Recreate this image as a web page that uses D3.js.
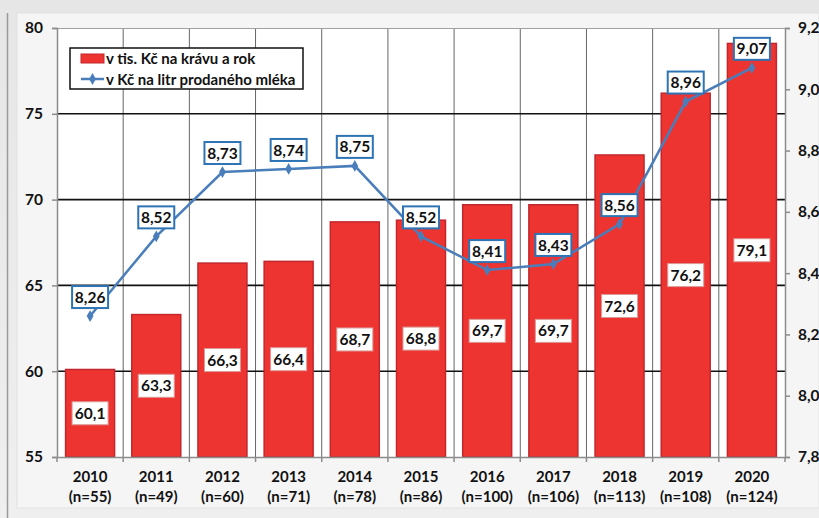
<!DOCTYPE html>
<html>
<head>
<meta charset="utf-8">
<script src="https://cdn.jsdelivr.net/npm/d3@7/dist/d3.min.js"></script>
<style>
  body { margin: 0; background: #ececec; }
  svg text { font-family: Lato, "Open Sans", sans-serif; font-weight: bold; fill: #111; }
</style>
</head>
<body>
<div id="chart"></div>
<script>
// Data
const years = ["2010", "2011", "2012", "2013", "2014", "2015", "2016", "2017", "2018", "2019", "2020"];
const sampleSizes = [55, 49, 60, 71, 78, 86, 100, 106, 113, 108, 124];
const perCow = [60.1, 63.3, 66.3, 66.4, 68.7, 68.8, 69.7, 69.7, 72.6, 76.2, 79.1];
const perLitre = [8.26, 8.52, 8.73, 8.74, 8.75, 8.52, 8.41, 8.43, 8.56, 8.96, 9.07];
const leftTicks = [55, 60, 65, 70, 75, 80];
const rightTicks = [7.8, 8.0, 8.2, 8.4, 8.6, 8.8, 9.0, 9.2];
const legendLabels = ["v tis. Kč na krávu a rok", "v Kč na litr prodaného mléka"];

const width = 819, height = 518;
const margin = { top: 28, right: 34, bottom: 61, left: 57 };
const innerW = width - margin.left - margin.right;
const innerH = height - margin.top - margin.bottom;

const red = "#ee3431", redDark = "#c1272d", blue = "#4a7ebb", boxBlue = "#2e74b5";
const fmt = (v, d) => v.toFixed(d).replace(".", ",");

const svg = d3.select("#chart").append("svg")
    .attr("width", width)
    .attr("height", height);

// background frame
const defs = svg.append("defs");
const bgGrad = defs.append("linearGradient").attr("id", "bg").attr("x1", 0).attr("y1", 0).attr("x2", 0).attr("y2", 1);
bgGrad.append("stop").attr("offset", "0%").attr("stop-color", "#e6e6e6");
bgGrad.append("stop").attr("offset", "100%").attr("stop-color", "#efefef");
svg.append("rect").attr("width", width).attr("height", height).attr("fill", "url(#bg)");
svg.append("rect").attr("x", 17).attr("y", 13).attr("width", width - 17).attr("height", 495)
    .attr("fill", "#f5f5f5").attr("stroke", "#e2e2e2");
svg.append("line").attr("x1", 7.5).attr("x2", 7.5).attr("y1", 13).attr("y2", height)
    .attr("stroke", "#9a9a9a").attr("stroke-width", 1.5);

const g = svg.append("g").attr("transform", `translate(${margin.left},${margin.top})`);

// scales
const x = d3.scaleBand().domain(years).range([0, innerW]).paddingInner(0.26).paddingOuter(0.13);
const yL = d3.scaleLinear().domain([55, 80]).range([innerH, 0]);
const yR = d3.scaleLinear().domain([7.8, 9.2]).range([innerH, 0]);
const step = x.step();

// plot area
g.append("rect").attr("width", innerW).attr("height", innerH).attr("fill", "#fff");

// vertical gridlines at category boundaries
g.append("g").selectAll("line")
    .data(d3.range(1, years.length))
    .join("line")
    .attr("x1", i => i * step).attr("x2", i => i * step)
    .attr("y1", 0).attr("y2", innerH)
    .attr("stroke", "#666").attr("stroke-width", 1);

// horizontal gridlines
g.append("g").selectAll("line")
    .data(leftTicks.filter(t => t > 55 && t < 80))
    .join("line")
    .attr("x1", 0).attr("x2", innerW)
    .attr("y1", d => yL(d)).attr("y2", d => yL(d))
    .attr("stroke", "#111").attr("stroke-width", 1.6);
g.append("line").attr("x1", 0).attr("x2", innerW).attr("y1", 0.5).attr("y2", 0.5)
    .attr("stroke", "#a0a0a0");

// bars
g.append("g").selectAll("rect")
    .data(perCow)
    .join("rect")
    .attr("x", (d, i) => x(years[i]))
    .attr("y", d => yL(d))
    .attr("width", x.bandwidth())
    .attr("height", d => innerH - yL(d))
    .attr("fill", red)
    .attr("stroke", redDark)
    .attr("stroke-width", 1.5);

// bar value labels
const barLab = g.append("g").selectAll("g")
    .data(perCow)
    .join("g")
    .attr("transform", (d, i) => `translate(${x(years[i]) + x.bandwidth() / 2},${(yL(d) + innerH) / 2})`);
barLab.append("rect")
    .attr("x", -18).attr("y", -11.5).attr("width", 36).attr("height", 23)
    .attr("fill", "#fff").attr("stroke", "#d89a98").attr("stroke-width", 1);
barLab.append("text")
    .attr("text-anchor", "middle").attr("dy", "0.36em")
    .style("font-size", "15.5px")
    .text(d => fmt(d, 1));

// axes
const axisL = g.append("g").call(d3.axisLeft(yL).tickValues(leftTicks).tickSize(5).tickPadding(9).tickFormat(d => d));
const axisR = g.append("g").attr("transform", `translate(${innerW},0)`)
    .call(d3.axisRight(yR).tickValues(rightTicks).tickSize(5).tickPadding(8).tickFormat(d => fmt(d, 1)));
const axisB = g.append("g").attr("transform", `translate(0,${innerH})`)
    .call(d3.axisBottom(x).tickSize(0).tickFormat(""));
[axisL, axisR, axisB].forEach(a => {
    a.selectAll("path, line").attr("stroke", "#8c8c8c").attr("stroke-width", 1.5);
    a.selectAll("text").style("font-size", "15.5px").style("font-family", "Lato, sans-serif")
        .style("font-weight", "bold").attr("fill", "#111");
});
// bottom ticks at category boundaries
axisB.selectAll(".bt").data(d3.range(0, years.length + 1)).join("line")
    .attr("class", "bt")
    .attr("x1", i => i * step).attr("x2", i => i * step)
    .attr("y1", 0).attr("y2", 5)
    .attr("stroke", "#8c8c8c").attr("stroke-width", 1.5);

// category labels
const catLab = g.append("g").selectAll("text")
    .data(years)
    .join("text")
    .attr("text-anchor", "middle")
    .attr("transform", d => `translate(${x(d) + x.bandwidth() / 2},${innerH + 25})`)
    .style("font-size", "15px");
catLab.append("tspan").attr("x", 0).text(d => d);
catLab.append("tspan").attr("x", 0).attr("dy", 20).text((d, i) => `(n=${sampleSizes[i]})`);

// line series
const cx = i => x(years[i]) + x.bandwidth() / 2;
const line = d3.line().x((d, i) => cx(i)).y(d => yR(d));
g.append("path")
    .datum(perLitre)
    .attr("d", line)
    .attr("fill", "none")
    .attr("stroke", blue)
    .attr("stroke-width", 2.5);
g.append("g").selectAll("path")
    .data(perLitre)
    .join("path")
    .attr("d", d3.symbol(d3.symbolDiamond, 40))
    .attr("transform", (d, i) => `translate(${cx(i)},${yR(d)})`)
    .attr("fill", blue);

// line value labels
const lineLab = g.append("g").selectAll("g")
    .data(perLitre)
    .join("g")
    .attr("transform", (d, i) => `translate(${cx(i)},${yR(d) - 19})`);
lineLab.append("rect")
    .attr("x", -18).attr("y", -11).attr("width", 36).attr("height", 22)
    .attr("fill", "#fff").attr("stroke", boxBlue).attr("stroke-width", 2);
lineLab.append("text")
    .attr("text-anchor", "middle").attr("dy", "0.36em")
    .style("font-size", "15.5px")
    .text(d => fmt(d, 2));

// legend
const legend = svg.append("g").attr("transform", "translate(70,48)");
legend.append("rect").attr("width", 233).attr("height", 41)
    .attr("fill", "#fff").attr("stroke", "#111").attr("stroke-width", 1.5);
legend.append("rect").attr("x", 11).attr("y", 6).attr("width", 23).attr("height", 9)
    .attr("fill", red).attr("stroke", redDark);
legend.append("line").attr("x1", 11).attr("x2", 34).attr("y1", 31).attr("y2", 31)
    .attr("stroke", blue).attr("stroke-width", 2.5);
legend.append("path").attr("d", d3.symbol(d3.symbolDiamond, 40))
    .attr("transform", "translate(22.5,31)").attr("fill", blue);
legend.selectAll("text.lg").data(legendLabels).join("text")
    .attr("class", "lg")
    .attr("x", 36).attr("y", (d, i) => 16 + i * 21)
    .style("font-size", "15px")
    .text(d => d);
</script>
</body>
</html>
